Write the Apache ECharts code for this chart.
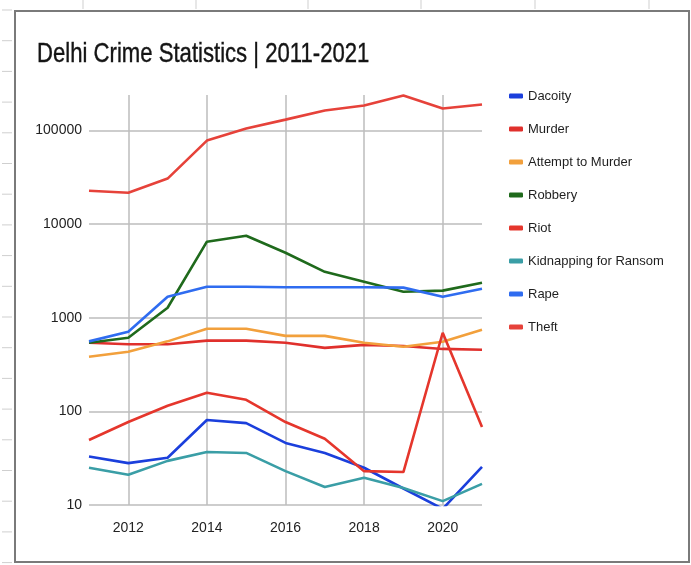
<!DOCTYPE html>
<html><head><meta charset="utf-8">
<script src="https://cdn.jsdelivr.net/npm/echarts@6/dist/echarts.min.js"></script>
<style>html,body{margin:0;padding:0;background:#fff}#c{width:691px;height:565px}</style>
</head><body><div id="c"></div>
<script>
const titleText = 'Delhi Crime Statistics | 2011-2021';
const years = ['2011','2012','2013','2014','2015','2016','2017','2018','2019','2020','2021'];
const yTickValues = [10, 100, 1000, 10000, 100000];
const dacoity = [33, 28, 32, 81, 75, 46, 36, 25, 15, 9.1, 25.5];
const murder = [541, 521, 521, 570, 570, 541, 477, 514, 500, 465, 455];
const attemptToMurder = [383, 433, 560, 763, 763, 641, 641, 541, 490, 554, 745];
const robbery = [541, 611, 1280, 6500, 7530, 4950, 3100, 2430, 1900, 1950, 2370];
const riot = [49.5, 77, 115, 158, 133, 77, 51, 23, 22.5, 692, 68];
const kidnapping = [25, 21, 29.6, 36.9, 36, 23, 15.6, 19.5, 15.2, 11, 16.8];
const rape = [560, 708, 1680, 2150, 2150, 2120, 2120, 2120, 2100, 1680, 2040];
const theft = [22800, 21700, 30700, 78200, 105000, 131000, 164000, 185000, 237000, 172000, 190000];

const seriesDefs = [
  ['Dacoity', dacoity, '#1b3fdc'],
  ['Murder', murder, '#e0302c'],
  ['Attempt to Murder', attemptToMurder, '#f2a03c'],
  ['Robbery', robbery, '#1f6a1c'],
  ['Riot', riot, '#e5362c'],
  ['Kidnapping for Ransom', kidnapping, '#3a9ea6'],
  ['Rape', rape, '#2f6cf0'],
  ['Theft', theft, '#e6423a']
];

const chart = echarts.init(document.getElementById('c'));
const gridColor = '#bdbdbd';
const deco = [];
// chart frame
deco.push({type:'rect', shape:{x:15, y:11, width:674, height:551}, style:{fill:null, stroke:'#7a7a7a', lineWidth:2}, silent:true});
// spreadsheet row ticks on the left
for (let y = 10; y < 565; y += 30.7) {
  deco.push({type:'line', shape:{x1:2, y1:y, x2:12, y2:y}, style:{stroke:'#cfcfcf', lineWidth:1}, silent:true});
}
// spreadsheet column ticks on top
[83, 196, 308, 421, 535, 649].forEach(x => {
  deco.push({type:'line', shape:{x1:x, y1:0, x2:x, y2:9}, style:{stroke:'#cfcfcf', lineWidth:1}, silent:true});
});
// title (slightly condensed like the reference)
deco.push({type:'text', x:37, y:40, scaleX:0.79, silent:true,
  style:{text:titleText, fill:'#141414', font:'28px "Liberation Sans", Arial, sans-serif', verticalAlign:'top',
         stroke:'#141414', lineWidth:0.4}});

chart.setOption({
  backgroundColor: '#fff',
  animation: false,
  graphic: deco,
  legend: {
    orient: 'vertical',
    left: 504, top: 84,
    icon: 'roundRect',
    itemWidth: 14, itemHeight: 5,
    itemGap: 19,
    textStyle: {fontFamily: 'Liberation Sans, Arial, sans-serif', fontSize: 13, color: '#1f1f1f', lineHeight: 14},
    data: seriesDefs.map(d => d[0])
  },
  grid: {left: 89, right: 209, top: 95, bottom: 60, containLabel: false},
  xAxis: {
    type: 'category',
    data: years,
    boundaryGap: false,
    axisLine: {show: false},
    axisTick: {show: false},
    axisLabel: {
      interval: (i) => i % 2 === 1,
      margin: 16,
      fontFamily: 'Liberation Sans, Arial, sans-serif', fontSize: 14, color: '#222'
    },
    splitLine: {show: true, interval: (i) => i % 2 === 1, lineStyle: {color: gridColor, width: 1.5}}
  },
  yAxis: {
    type: 'log',
    logBase: 10,
    min: 10, max: 240000,
    axisLine: {show: false},
    axisTick: {show: false},
    axisLabel: {
      showMaxLabel: false,
      margin: 7,
      fontFamily: 'Liberation Sans, Arial, sans-serif', fontSize: 14, color: '#222',
      formatter: (v) => yTickValues.some(t => Math.abs(t - v) / t < 1e-6) ? String(Math.round(v)) : ''
    },
    splitLine: {show: true, showMaxLine: false, lineStyle: {color: gridColor, width: 1.5}}
  },
  series: seriesDefs.map(d => ({
    name: d[0], type: 'line', data: d[1],
    showSymbol: false, symbol: 'none',
    lineStyle: {width: 2.6, color: d[2]},
    itemStyle: {color: d[2]}
  }))
});
</script></body></html>
